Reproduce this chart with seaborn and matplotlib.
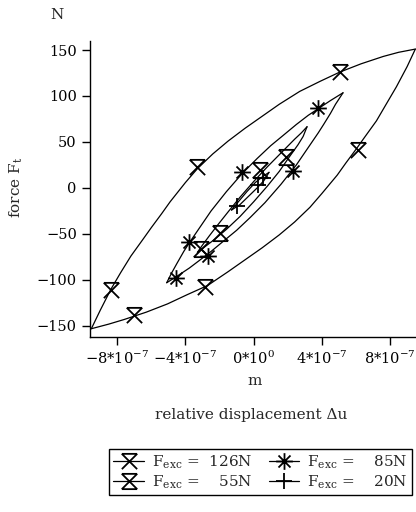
import numpy as np
import matplotlib
matplotlib.use("Agg")
import matplotlib.pyplot as plt
import seaborn as sns
from matplotlib.path import Path
from matplotlib.lines import Line2D

# displacement values in units of 1e-7 m, force in N

# F_exc = 126N loop
x126_up = [-9.52, -9.0, -8.37, -7.8, -7.2, -6.5, -6.0, -5.4, -4.9, -4.0, -3.3, -2.4,
           -1.5, -0.5, 0.5, 1.5, 2.7, 3.9, 5.05, 6.3, 7.6, 8.5, 9.48]
y126_up = [-153, -133, -110, -92, -74, -56, -43, -28, -15, 6, 21, 37,
           51, 65, 78, 91, 105, 116, 126, 135, 143, 147.5, 151]
x126_lo = [-9.52, -8.5, -7.6, -6.3, -5.05, -3.9, -2.7, -1.5, -0.5, 0.5, 1.5, 2.4,
           3.3, 4.0, 4.9, 5.4, 6.0, 6.5, 7.2, 7.8, 8.37, 9.0, 9.48]
y126_lo = [-153, -148, -143, -135, -126, -116, -106, -91, -78, -65, -51, -37,
           -21, -6, 14, 27, 42, 55, 73, 92, 110, 132, 151]
x126_pts = [-8.37, -7.0, -3.3, -2.87, 5.08, 6.12]
y126_pts = [-111, -138, 23, -108, 126, 41]

# F_exc = 85N loop
x85_up = [-5.1, -4.8, -4.5, -4.1, -3.79, -3.2, -2.5, -1.6, -0.66, 0.2, 1.0, 1.72,
          2.5, 3.2, 3.77, 4.5, 5.24]
y85_up = [-103, -92, -82, -69, -60, -44, -25, -4, 16, 32, 46, 57,
          69, 79, 86, 95, 103.5]
x85_lo = [-5.1, -4.5, -3.77, -3.2, -2.5, -1.72, -1.0, -0.2, 0.66, 1.6, 2.5, 3.2,
          3.79, 4.1, 4.5, 4.8, 5.24]
y85_lo = [-103, -96, -87, -79, -69, -57, -46, -32, -16, 4, 25, 44,
          60, 69, 81, 91, 103.5]
x85_pts = [-4.53, -3.79, -2.68, -0.7, 2.3, 3.77]
y85_pts = [-98, -59, -74, 17.7, 19, 86.6]

# F_exc = 55N loop
x55_up = [-3.3, -3.0, -2.6, -2.1, -1.5, -0.8, 0.0, 0.8, 1.6, 2.4, 2.8, 3.13]
y55_up = [-70, -62, -52, -40, -26, -10, 7, 23, 38, 53, 60, 66.6]
x55_lo = [-3.3, -2.8, -2.3, -1.6, -0.8, 0.0, 0.8, 1.5, 2.1, 2.6, 2.9, 3.13]
y55_lo = [-70, -63, -56, -45, -31, -15, 2, 18, 34, 47, 56, 66.6]
x55_pts = [-3.07, -1.95, 0.35, 1.92]
y55_pts = [-66, -49, 19.6, 34]

# F_exc = 20N loop
x20_up = [-1.3, -0.9, -0.4, 0.1, 0.5, 0.9]
y20_up = [-24, -15, -4, 6, 12, 17]
x20_lo = [-1.3, -0.8, -0.3, 0.2, 0.6, 0.9]
y20_lo = [-24, -18, -9, 0, 8, 17]
x20_pts = [-1.0, 0.25, 0.55]
y20_pts = [-20, 3, 10.5]

xticks = [-8e-7, -4e-7, 0, 4e-7, 8e-7]
xticklabels = [r"$-8{*}10^{-7}$", r"$-4{*}10^{-7}$", r"$0{*}10^{0}$",
               r"$4{*}10^{-7}$", r"$8{*}10^{-7}$"]
yticks = [150, 100, 50, 0, -50, -100, -150]


def seg_marker(segs):
    verts, codes = [], []
    for a, b in segs:
        verts += [a, b]
        codes += [Path.MOVETO, Path.LINETO]
    return Path(verts, codes)


mk126 = seg_marker([((-1, 1), (1, 1)), ((-1, 1), (1, -1)), ((1, 1), (-1, -1))])
mk55 = seg_marker([((-1, 1), (1, 1)), ((-1, 1), (1, -1)), ((1, 1), (-1, -1)),
                   ((-1, -1), (1, -1))])
mk85 = seg_marker([((0, -1), (0, 1)), ((-1, 0), (1, 0)),
                   ((-0.72, -0.72), (0.72, 0.72)), ((-0.72, 0.72), (0.72, -0.72))])
mk20 = seg_marker([((0, -1), (0, 1)), ((-1, 0), (1, 0))])

sns.set_style("ticks")
plt.rcParams['font.family'] = ['DejaVu Serif']
plt.rcParams['mathtext.fontset'] = 'dejavuserif'

fig = plt.figure(figsize=(4.16, 5.12), dpi=100)
ax = fig.add_axes([0.2163, 0.3418, 0.787, 0.5785])

loops = [
    (x126_up, y126_up, x126_lo, y126_lo, x126_pts, y126_pts, mk126, 11),
    (x85_up, y85_up, x85_lo, y85_lo, x85_pts, y85_pts, mk85, 12),
    (x55_up, y55_up, x55_lo, y55_lo, x55_pts, y55_pts, mk55, 11),
    (x20_up, y20_up, x20_lo, y20_lo, x20_pts, y20_pts, mk20, 11),
]
for xu, yu, xl, yl, xp, yp, mk, ms in loops:
    sns.lineplot(x=np.array(xu) * 1e-7, y=yu, sort=False, estimator=None,
                 color='k', linewidth=0.9, ax=ax)
    sns.lineplot(x=np.array(xl) * 1e-7, y=yl, sort=False, estimator=None,
                 color='k', linewidth=0.9, ax=ax)
    ax.plot(np.array(xp) * 1e-7, yp, linestyle='none', marker=mk, ms=ms,
            mfc='none', mec='k', mew=1.3)

ax.set_xlim(-9.6e-7, 9.6e-7)
ax.set_ylim(-162, 160)
ax.set_xticks(xticks)
ax.set_xticklabels(xticklabels)
ax.set_yticks(yticks)
ax.tick_params(direction='out', length=6, width=1, labelsize=10.5, colors='k')
for s in ['top', 'right']:
    ax.spines[s].set_visible(False)
for s in ['left', 'bottom']:
    ax.spines[s].set_linewidth(1)
    ax.spines[s].set_color('k')

fig.text(0.137, 0.971, "N", ha='center', va='center', fontsize=11)
fig.text(0.038, 0.635, r"force F$_{\mathrm{t}}$", rotation=90, ha='center',
         va='center', fontsize=11)
fig.text(0.611, 0.256, "m", ha='center', va='center', fontsize=11)
fig.text(0.604, 0.189, "relative displacement Δu", ha='center', va='center',
         fontsize=11)

handles = []
for mk, ms in [(mk126, 11), (mk55, 11), (mk85, 12), (mk20, 11)]:
    handles.append(Line2D([0], [0], color='k', lw=0.9, marker=mk, ms=ms,
                          mfc='none', mec='k', mew=1.3))
labels = [r"F$_{\mathrm{exc}}$ =  126N", r"F$_{\mathrm{exc}}$ =    55N",
          r"F$_{\mathrm{exc}}$ =    85N", r"F$_{\mathrm{exc}}$ =    20N"]
leg = fig.legend(handles, labels, ncol=2, loc='center',
                 bbox_to_anchor=(0.626, 0.078), fontsize=11, frameon=True,
                 fancybox=False, framealpha=1, edgecolor='k',
                 handlelength=2.0, handletextpad=0.5, columnspacing=1.1,
                 labelspacing=0.15, borderpad=0.3)
leg.get_frame().set_linewidth(1)

fig.savefig("out.png", dpi=100)
